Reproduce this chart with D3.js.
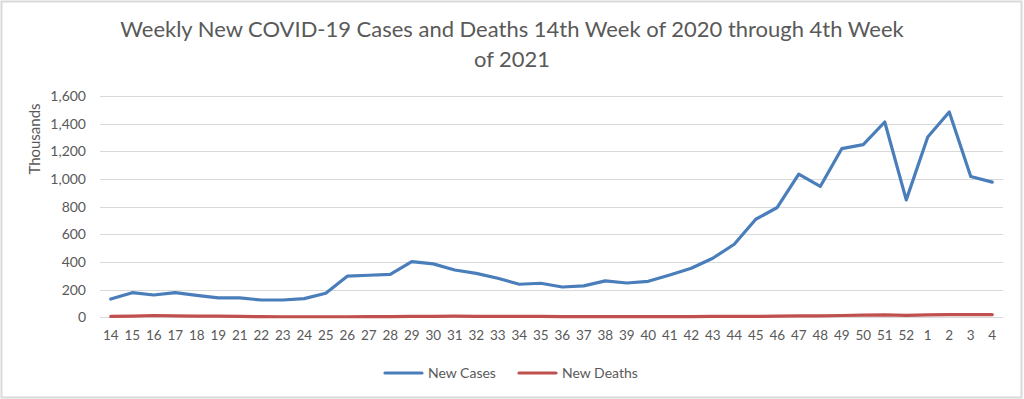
<!DOCTYPE html>
<html>
<head>
<meta charset="utf-8">
<script src="https://cdn.jsdelivr.net/npm/d3@7"></script>
<style>
  html, body { margin: 0; padding: 0; background: #fff; }
  svg { display: block; }
  text { font-family: Lato, "Open Sans", sans-serif; fill: #595959; }
</style>
</head>
<body>
<svg id="chart" width="1024" height="399"></svg>
<script>
// Week labels (week 20 absent in the source)
const weeks = ["14","15","16","17","18","19","21","22","23","24","25","26","27","28","29","30","31","32","33","34","35","36","37","38","39","40","41","42","43","44","45","46","47","48","49","50","51","52","1","2","3","4"];
// New cases, thousands
const newCases = [132,178,161,178,159,140,140,125,125,135,174,297,304,311,403,386,342,318,282,239,246,219,227,263,248,260,306,355,427,528,709,794,1035,946,1219,1248,1412,849,1303,1484,1018,977];
// New deaths, thousands
const newDeaths = [6,8,13,10,9,8,6,5,4,4,4,4,5,5,6,7,8,7,7,6,6,5,5,5,5,5,5,5,6,6,7,8,10,11,13,16,17,14,18,20,20,19];
const yTicks = [0,200,400,600,800,1000,1200,1400,1600];
const titleLines = ["Weekly New COVID-19 Cases and Deaths 14th Week of 2020 through 4th Week", "of 2021"];
const seriesNames = ["New Cases", "New Deaths"];
const seriesColors = ["#4A7EBB", "#C0504D"];

const svg = d3.select("#chart");

// chart border
svg.append("rect").attr("x", 1.5).attr("y", 1.5).attr("width", 1020).attr("height", 396)
  .attr("fill", "#fff").attr("stroke", "#d9d9d9").attr("stroke-width", 2);

const plot = { left: 100, right: 1003, top: 96, bottom: 317.3 };

const x = d3.scaleBand().domain(weeks).range([plot.left, plot.right]).paddingInner(0).paddingOuter(0);
const y = d3.scaleLinear().domain([0, 1600]).range([plot.bottom, plot.top]);

// title
const title = svg.append("text").attr("text-anchor", "middle").style("font-size", "21px");
title.selectAll("tspan").data(titleLines).join("tspan")
  .attr("x", 512).attr("y", (d, i) => 37 + i * 30).text(d => d);
// fit first line to reference width
const firstLen = title.select("tspan").node().getComputedTextLength();
title.style("font-size", (21 * 784 / firstLen) + "px");

// gridlines
svg.append("g").selectAll("line").data(yTicks).join("line")
  .attr("x1", plot.left).attr("x2", plot.right)
  .attr("y1", d => Math.round(y(d)) + 0.5).attr("y2", d => Math.round(y(d)) + 0.5)
  .attr("stroke", "#d9d9d9").attr("stroke-width", 1);

// y axis
const yAxis = svg.append("g").attr("transform", `translate(${plot.left},0)`)
  .call(d3.axisLeft(y).tickValues(yTicks).tickSize(0).tickPadding(14).tickFormat(d3.format(",")));
yAxis.select(".domain").remove();
yAxis.selectAll("text").style("font-size", "14px").style("font-family", "Lato, sans-serif").attr("fill", "#595959");

// x axis
const xAxis = svg.append("g").attr("transform", `translate(0,${plot.bottom})`)
  .call(d3.axisBottom(x).tickSize(0).tickPadding(13));
xAxis.select(".domain").remove();
xAxis.selectAll("text").style("font-size", "13.5px").style("font-family", "Lato, sans-serif").attr("fill", "#595959");

// y title
svg.append("text").attr("transform", "translate(40,139) rotate(-90)")
  .attr("text-anchor", "middle").style("font-size", "15px").text("Thousands");

// lines
const line = d3.line().x((d, i) => x(weeks[i]) + x.bandwidth() / 2).y(d => y(d));
[newCases, newDeaths].forEach((data, k) => {
  svg.append("path").datum(data).attr("d", line)
    .attr("fill", "none").attr("stroke", seriesColors[k]).attr("stroke-width", 3.2)
    .attr("stroke-linejoin", "round").attr("stroke-linecap", "round");
});

// legend
const legendX = [385, 519];
seriesNames.forEach((name, k) => {
  const g = svg.append("g").attr("transform", `translate(${legendX[k]},373)`);
  g.append("line").attr("x1", 0).attr("x2", 37).attr("y1", 0).attr("y2", 0)
    .attr("stroke", seriesColors[k]).attr("stroke-width", 3.2).attr("stroke-linecap", "round");
  g.append("text").attr("x", 43).attr("y", 5).style("font-size", "14px").text(name);
});
</script>
</body>
</html>
